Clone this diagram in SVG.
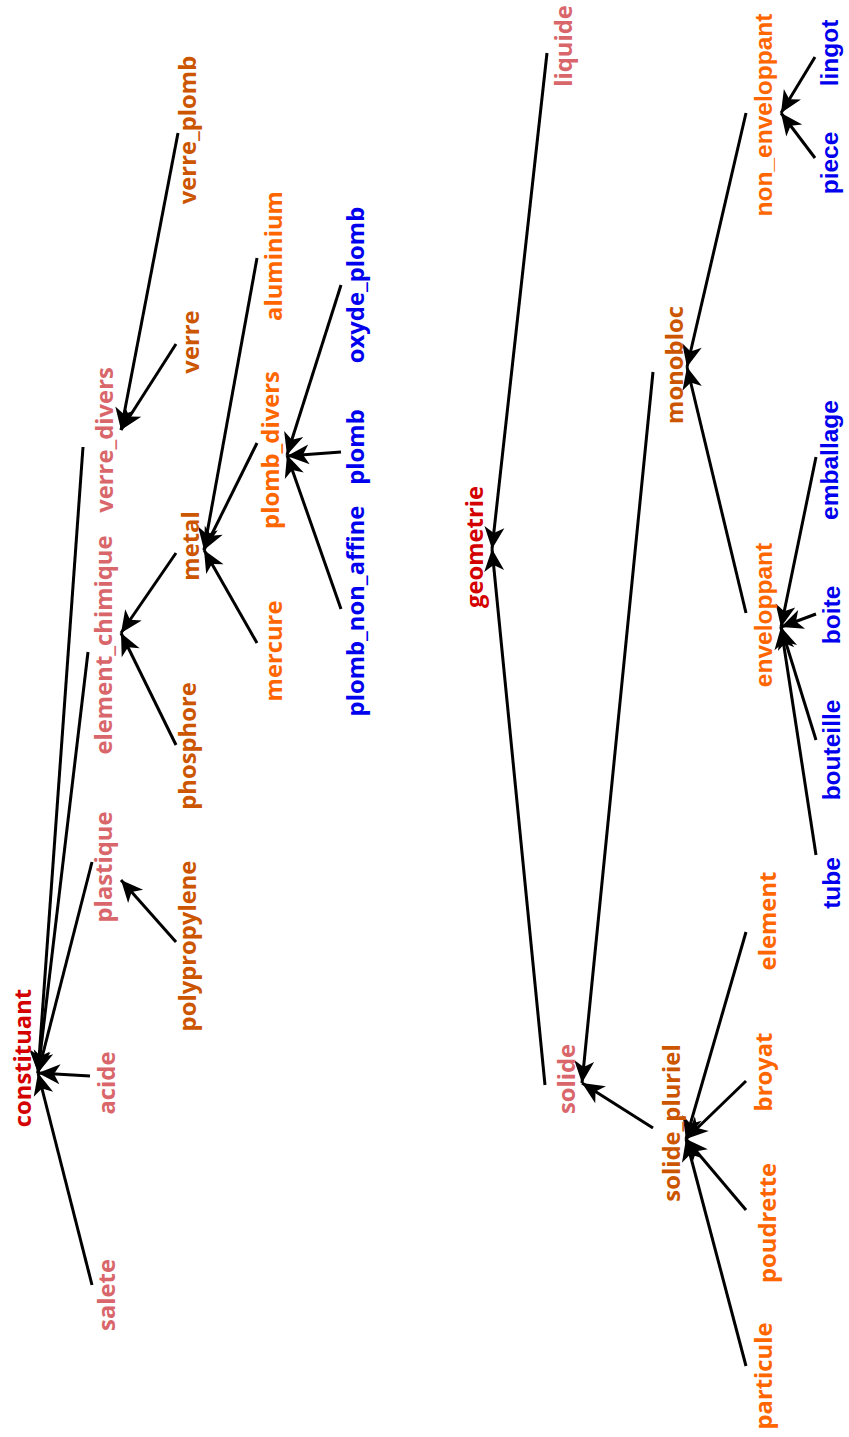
<svg xmlns="http://www.w3.org/2000/svg" width="849" height="1437" viewBox="0 0 849 1437">
<defs>
<marker id="ah" markerUnits="userSpaceOnUse" markerWidth="26" markerHeight="24" viewBox="-1 -12 26 24" refX="22" refY="0" orient="auto">
<path d="M0,-10 L22,0 L0,10 L6,0 z" fill="#000"/>
</marker>
<style>
.e line{stroke:#000;stroke-width:3;marker-end:url(#ah)}
text{font-family:"Open Sans","Noto Sans",sans-serif;font-weight:bold;font-size:23.8px;text-anchor:middle}
.l{font-family:"Liberation Sans",Arial,sans-serif;font-size:24.5px}
.r{fill:#d40000}.p{fill:#d9666b}.d{fill:#cc5500}.o{fill:#ff6600}.b{fill:#0000ee}
</style>
</defs>
<g class="e" id="edges">
<line x1="90" y1="1076" x2="38" y2="1073"/>
<line x1="92" y1="1285" x2="38" y2="1073"/>
<line x1="92" y1="862" x2="38" y2="1073"/>
<line x1="88" y1="652" x2="38" y2="1073"/>
<line x1="83" y1="447" x2="38" y2="1073"/>
<line x1="176" y1="942" x2="121" y2="880"/>
<line x1="176" y1="745" x2="121" y2="633"/>
<line x1="176" y1="553" x2="121" y2="633"/>
<line x1="176" y1="344" x2="121" y2="430"/>
<line x1="178" y1="133" x2="121" y2="430"/>
<line x1="257" y1="643" x2="204" y2="550"/>
<line x1="257" y1="443" x2="204" y2="550"/>
<line x1="257" y1="258" x2="204" y2="550"/>
<line x1="341" y1="609" x2="287" y2="455"/>
<line x1="341" y1="452" x2="287" y2="456"/>
<line x1="341" y1="285" x2="287" y2="455"/>
<line x1="547" y1="53" x2="492" y2="549"/>
<line x1="545" y1="1085" x2="492" y2="549"/>
<line x1="653" y1="1128" x2="582" y2="1083"/>
<line x1="653" y1="372" x2="582" y2="1083"/>
<line x1="746" y1="113" x2="687" y2="367"/>
<line x1="746" y1="613" x2="687" y2="367"/>
<line x1="746" y1="932" x2="686" y2="1139"/>
<line x1="746" y1="1081" x2="686" y2="1139"/>
<line x1="746" y1="1210" x2="686" y2="1139"/>
<line x1="746" y1="1366" x2="686" y2="1139"/>
<line x1="815" y1="57" x2="781" y2="113"/>
<line x1="815" y1="158" x2="781" y2="113"/>
<line x1="816" y1="457" x2="781" y2="627"/>
<line x1="816" y1="614" x2="781" y2="627"/>
<line x1="816" y1="740" x2="781" y2="627"/>
<line x1="816" y1="855" x2="781" y2="627"/>
</g>
<g id="constituant"><text class="r" transform="translate(31,1058) rotate(-90)">constituant</text></g>
<g id="acide"><text class="p" transform="translate(115,1083) rotate(-90)">acide</text></g>
<g id="salete"><text class="p" transform="translate(115,1295) rotate(-90)">salete</text></g>
<g id="plastique"><text class="p" transform="translate(112,867) rotate(-90)">plastique</text></g>
<g id="element_chimique"><text class="p" transform="translate(112,645) rotate(-90)">element_chimique</text></g>
<g id="verre_divers"><text class="p" transform="translate(113,440) rotate(-90)">verre_divers</text></g>
<g id="polypropylene"><text class="d" transform="translate(196,946) rotate(-90)">polypropylene</text></g>
<g id="phosphore"><text class="d" transform="translate(196,746) rotate(-90)">phosphore</text></g>
<g id="metal"><text class="d" transform="translate(199,546) rotate(-90)">metal</text></g>
<g id="verre"><text class="d" transform="translate(199,342) rotate(-90)">verre</text></g>
<g id="verre_plomb"><text class="d" transform="translate(196,130) rotate(-90)">verre_plomb</text></g>
<g id="mercure"><text class="o" transform="translate(282,651) rotate(-90)">mercure</text></g>
<g id="plomb_divers"><text class="o" transform="translate(279,450) rotate(-90)">plomb_divers</text></g>
<g id="aluminium"><text class="o" transform="translate(282,256) rotate(-90)">aluminium</text></g>
<g id="plomb_non_affine"><text class="b" transform="translate(364,611) rotate(-90)">plomb_non_affine</text></g>
<g id="plomb"><text class="b" transform="translate(364,447) rotate(-90)">plomb</text></g>
<g id="oxyde_plomb"><text class="b" transform="translate(364,285) rotate(-90)">oxyde_plomb</text></g>
<g id="geometrie"><text class="r" transform="translate(483,547) rotate(-90)">geometrie</text></g>
<g id="liquide"><text class="p" transform="translate(572,46) rotate(-90)">liquide</text></g>
<g id="solide"><text class="p" transform="translate(575,1079) rotate(-90)">solide</text></g>
<g id="monobloc"><text class="d" transform="translate(683,365) rotate(-90)">monobloc</text></g>
<g id="solide_pluriel"><text class="d" transform="translate(680,1123) rotate(-90)">solide_pluriel</text></g>
<g id="non_enveloppant"><text class="o l" transform="translate(772,115) rotate(-90)">non_enveloppant</text></g>
<g id="enveloppant"><text class="o l" transform="translate(772,615) rotate(-90)">enveloppant</text></g>
<g id="element"><text class="o" transform="translate(776,921) rotate(-90)">element</text></g>
<g id="broyat"><text class="o" transform="translate(772,1072) rotate(-90)">broyat</text></g>
<g id="poudrette"><text class="o" transform="translate(776,1223) rotate(-90)">poudrette</text></g>
<g id="particule"><text class="o" transform="translate(772,1376) rotate(-90)">particule</text></g>
<g id="lingot"><text class="b l" transform="translate(838,53) rotate(-90)">lingot</text></g>
<g id="piece"><text class="b l" transform="translate(838,163) rotate(-90)">piece</text></g>
<g id="emballage"><text class="b l" transform="translate(838,460) rotate(-90)">emballage</text></g>
<g id="boite"><text class="b l" transform="translate(840,615) rotate(-90)">boite</text></g>
<g id="bouteille"><text class="b l" transform="translate(840,750) rotate(-90)">bouteille</text></g>
<g id="tube"><text class="b l" transform="translate(840,883) rotate(-90)">tube</text></g>
</svg>
